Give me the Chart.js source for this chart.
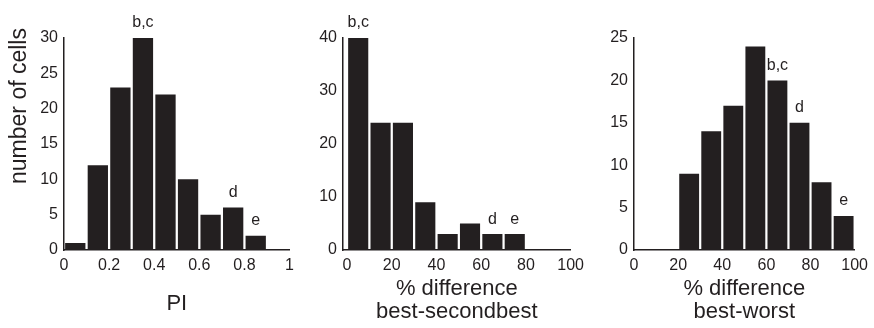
<!DOCTYPE html>
<html>
<head>
<meta charset="utf-8">
<script src="https://cdn.jsdelivr.net/npm/chart.js@4/dist/chart.umd.min.js"></script>
<style>
  html, body { margin: 0; padding: 0; background: #fff; }
  #wrap { position: relative; width: 874px; height: 328px; }
  .panel { position: absolute; top: 0; height: 328px; }
</style>
</head>
<body>
<div id="wrap">
  <div class="panel" style="left:0;width:300px"><canvas id="pi_chart"></canvas></div>
  <div class="panel" style="left:300px;width:290px"><canvas id="second_chart"></canvas></div>
  <div class="panel" style="left:590px;width:284px"><canvas id="worst_chart"></canvas></div>
</div>
<script>
// bin centres and counts
const pi_bins = [0.05, 0.15, 0.25, 0.35, 0.45, 0.55, 0.65, 0.75, 0.85, 0.95];
const pi_counts = [1, 12, 23, 30, 22, 10, 5, 6, 2, 0];
const pi_notes = ['', '', '', 'b,c', '', '', '', 'd', 'e', ''];
const pi_xticks = [0, 0.2, 0.4, 0.6, 0.8, 1];
const pi_xlabels = ['0', '0.2', '0.4', '0.6', '0.8', '1'];

const pct_bins = [5, 15, 25, 35, 45, 55, 65, 75, 85, 95];
const pct_xticks = [0, 20, 40, 60, 80, 100];
const pct_xlabels = ['0', '20', '40', '60', '80', '100'];

const second_counts = [40, 24, 24, 9, 3, 5, 3, 3, 0, 0];
const second_notes = ['b,c', '', '', '', '', '', 'd', 'e', '', ''];

const worst_counts = [0, 0, 9, 14, 17, 24, 20, 15, 8, 4];
const worst_notes = ['', '', '', '', '', '', 'b,c', 'd', '', 'e'];

const y_title = 'number of cells';

const ink = '#231f20';
const family = '"Liberation Sans", Arial, Helvetica, sans-serif';

// letters above bars, and the rotated y title on the first panel
const notes_plugin = {
  id: 'notes',
  afterDatasetsDraw(chart, args, opts) {
    const ctx = chart.ctx;
    const xs = chart.scales.x, ys = chart.scales.y;
    ctx.save();
    ctx.fillStyle = ink;
    ctx.font = '16px ' + family;
    ctx.textAlign = 'center';
    ctx.textBaseline = 'middle';
    opts.notes.forEach((t, i) => {
      if (!t) return;
      const x = xs.getPixelForValue(opts.bins[i]);
      const y = ys.getPixelForValue(opts.counts[i]) - 15;
      ctx.fillText(t, x, y);
    });
    if (opts.ytitle) {
      ctx.translate(20, 106);
      ctx.rotate(-Math.PI / 2);
      ctx.font = '23px ' + family;
      ctx.fillText(opts.ytitle, 0, 0);
    }
    ctx.restore();
  }
};

function make_hist(id, bins, counts, notes, xticks, xlabels, xmin, xmax, ymax, ystep, ywidth, rpad, xtitle, tpad, ytitle) {
  const cfg = {
    type: 'bar',
    data: {
      datasets: [{
        data: counts.map((c, i) => ({ x: bins[i], y: c })),
        backgroundColor: ink,
        borderWidth: 0,
        barPercentage: 0.9,
        categoryPercentage: 1
      }]
    },
    options: {
      responsive: true,
      maintainAspectRatio: false,
      animation: false,
      layout: { autoPadding: false, padding: { left: 0, top: 38, right: rpad, bottom: 0 } },
      plugins: {
        legend: { display: false },
        tooltip: { enabled: false },
        notes: { bins: bins, counts: counts, notes: notes, ytitle: ytitle }
      },
      scales: {
        x: {
          type: 'linear',
          offset: false,
          min: xmin,
          max: xmax,
          afterBuildTicks: s => { s.ticks = xticks.map(v => ({ value: v })); },
          afterFit: s => { s.height = 78; },
          grid: { display: false, drawTicks: false, offset: false },
          border: { display: true, color: ink, width: 1.5 },
          ticks: {
            autoSkip: false,
            maxRotation: 0,
            padding: 6,
            color: ink,
            font: { family: family, size: 16 },
            callback: (v, i) => xlabels[i]
          },
          title: {
            display: true,
            text: xtitle,
            color: ink,
            font: { family: family, size: 22, lineHeight: 1.05 },
            padding: { top: 0, bottom: tpad }
          }
        },
        y: {
          min: 0,
          max: ymax,
          afterFit: s => { s.width = ywidth; },
          grid: { display: false, drawTicks: false },
          border: { display: true, color: ink, width: 1.5 },
          ticks: {
            stepSize: ystep,
            padding: 6,
            color: ink,
            font: { family: family, size: 16 }
          }
        }
      }
    },
    plugins: [notes_plugin]
  };
  return new Chart(document.getElementById(id), cfg);
}

const pi_chart = make_hist('pi_chart', pi_bins, pi_counts, pi_notes, pi_xticks, pi_xlabels,
  0, 1, 30, 5, 64, 10, 'PI', 13, y_title);
const second_chart = make_hist('second_chart', pct_bins, second_counts, second_notes, pct_xticks, pct_xlabels,
  -1.8, 100, 40, 10, 43, 17, ['% difference', 'best-secondbest'], 4.5, null);
const worst_chart = make_hist('worst_chart', pct_bins, worst_counts, worst_notes, pct_xticks, pct_xlabels,
  0, 100, 25, 5, 44, 16, ['% difference', 'best-worst'], 4.5, null);
</script>
</body>
</html>
